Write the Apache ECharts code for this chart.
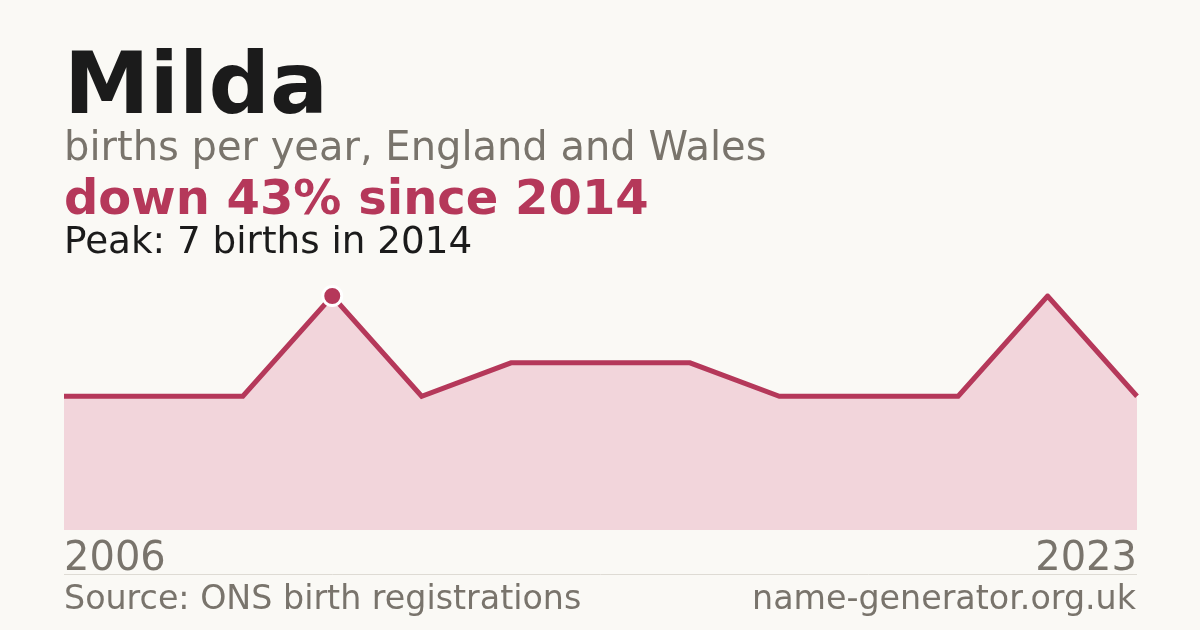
<!DOCTYPE html>
<html>
<head>
<meta charset="utf-8">
<script src="https://cdn.jsdelivr.net/npm/echarts@6/dist/echarts.min.js"></script>
<style>
html,body{margin:0;padding:0;background:#faf9f5;}
#chart{width:1200px;height:630px;}
</style>
</head>
<body>
<div id="chart"></div>
<script>
// Data (years with published counts; only first and last are labelled)
const years = ['2006','2008','2010','2014','2015','2016','2017','2018','2019','2020','2021','2022','2023'];
const births = [4, 4, 4, 7, 4, 5, 5, 5, 4, 4, 4, 7, 4];
const peakIndex = 3;

const titleText = 'Milda';
const subtitleText = 'births per year, England and Wales';
const changeText = 'down 43% since 2014';
const peakText = 'Peak: 7 births in 2014';
const sourceText = 'Source: ONS birth registrations';
const siteText = 'name-generator.org.uk';

const FONT = '"DejaVu Sans", Verdana, sans-serif';
const RED = '#b5385a';
const GREY = '#79746c';
const off = 0.27;

function txt(x, baseline, text, size, color, weight, align) {
  return {
    type: 'text', x: x, y: baseline - off * size, silent: true,
    style: { text: text, fontFamily: FONT, fontSize: size, fontWeight: weight || 'normal',
      fill: color, align: align || 'left', verticalAlign: 'middle' }
  };
}

const chart = echarts.init(document.getElementById('chart'));
chart.setOption({
  backgroundColor: '#faf9f5',
  animation: false,
  grid: { left: 64, right: 63, top: 296, bottom: 100, containLabel: false },
  xAxis: {
    type: 'category', data: years, boundaryGap: false,
    axisLine: { show: false }, axisTick: { show: false }, splitLine: { show: false },
    axisLabel: {
      interval: function (i) { return i === 0 || i === years.length - 1; },
      fontFamily: FONT, fontSize: 40, color: GREY, margin: 10,
      alignMinLabel: 'left', alignMaxLabel: 'right'
    }
  },
  yAxis: { type: 'value', min: 0, max: 7, show: false, splitLine: { show: false } },
  series: [{
    type: 'line', data: births, showSymbol: false, symbol: 'none',
    lineStyle: { color: RED, width: 5, join: 'miter' },
    areaStyle: { color: '#f2d5db', opacity: 1 },
    itemStyle: { color: RED },
    markPoint: {
      symbol: 'circle', symbolSize: 19,
      itemStyle: { color: RED, borderColor: '#ffffff', borderWidth: 3 },
      label: { show: false },
      data: [{ coord: [peakIndex, births[peakIndex]] }]
    }
  }],
  graphic: [
    txt(64, 114, titleText, 86, '#1b1b1b', 'bold'),
    txt(64, 160, subtitleText, 40, GREY),
    txt(64, 214, changeText, 48, RED, 'bold'),
    txt(64, 253, peakText, 37.3, '#1b1b1b'),
    { type: 'line', silent: true, shape: { x1: 64, y1: 574.5, x2: 1137, y2: 574.5 },
      style: { stroke: '#dedbd4', lineWidth: 1 } },
    txt(64, 609, sourceText, 33.3, GREY),
    txt(1136, 609, siteText, 33.3, GREY, 'normal', 'right')
  ]
});
</script>
</body>
</html>
